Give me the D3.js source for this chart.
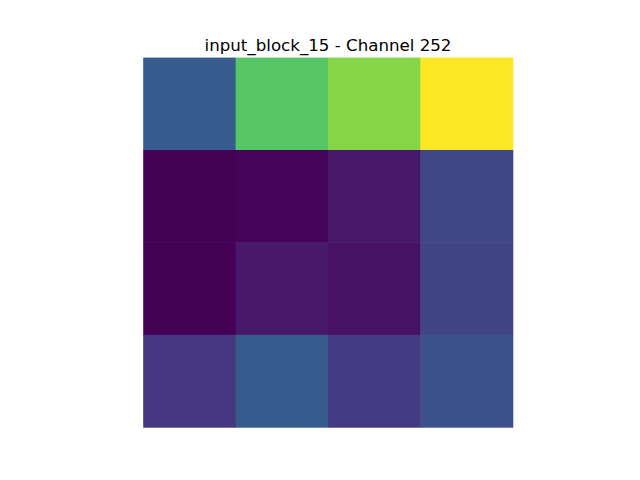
<!DOCTYPE html>
<html><head><meta charset="utf-8">
<script src="https://cdn.jsdelivr.net/npm/d3@7"></script>
<style>body{margin:0;background:#fff}</style>
</head><body>
<svg id="c" width="640" height="480"></svg>
<script>
const title = "input_block_15 - Channel 252";
const rows = [0, 1, 2, 3];
const cols = [0, 1, 2, 3];
const row0 = [0.285, 0.735, 0.82, 1.0];
const row1 = [0.0, 0.01, 0.065, 0.21];
const row2 = [0.0, 0.065, 0.045, 0.20];
const row3 = [0.16, 0.285, 0.17, 0.245];
const values = [row0, row1, row2, row3];

(function () {
const svg = d3.select("#c");
const plotTop = 57.6, size = 369.6, plotLeft = 328 - size / 2;
const x = d3.scaleBand().domain(cols).range([plotLeft, plotLeft + size]);
const y = d3.scaleBand().domain(rows).range([plotTop, plotTop + size]);
const flat = values.flatMap(r => r);
const color = d3.scaleSequential(d3.interpolateViridis).domain([d3.min(flat), d3.max(flat)]);

const cells = [];
rows.forEach(r => cols.forEach(c => cells.push({r, c, v: values[r][c]})));
svg.selectAll("rect.cell").data(cells).join("rect")
  .attr("class", "cell")
  .attr("x", d => x(d.c)).attr("y", d => y(d.r))
  .attr("width", x.bandwidth() + 0.5).attr("height", y.bandwidth() + 0.5)
  .attr("fill", d => color(d.v));

svg.append("text").attr("x", 328).attr("y", 50.5)
  .attr("text-anchor", "middle")
  .attr("font-family", "DejaVu Sans")
  .attr("font-size", "16.67px")
  .text(title);
})();
</script>
</body></html>
